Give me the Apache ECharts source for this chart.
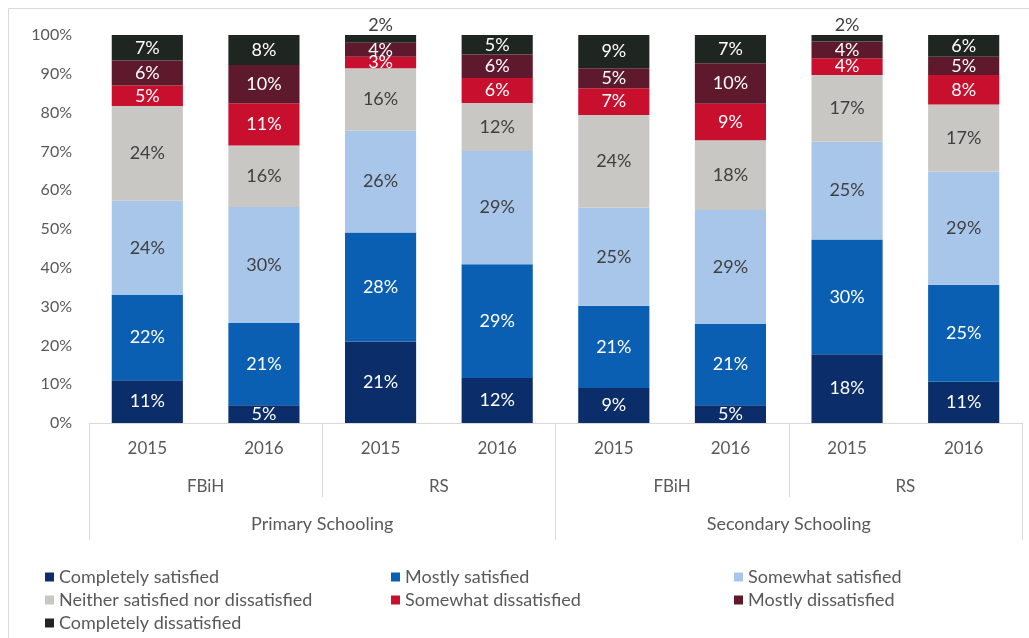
<!DOCTYPE html>
<html>
<head>
<meta charset="utf-8">
<script src="https://cdn.jsdelivr.net/npm/echarts@6/dist/echarts.min.js"></script>
<style>
html,body{margin:0;padding:0;background:#fff;}
#chart{width:1029px;height:638px;}
</style>
</head>
<body>
<div id="chart"></div>
<script>
const categories = ['2015','2016','2015','2016','2015','2016','2015','2016'];
const regions = ['FBiH','RS','FBiH','RS'];
const levels = ['Primary Schooling','Secondary Schooling'];
const yTicks = [0,10,20,30,40,50,60,70,80,90,100];

const seriesNames = ['Completely satisfied','Mostly satisfied','Somewhat satisfied',
  'Neither satisfied nor dissatisfied','Somewhat dissatisfied','Mostly dissatisfied','Completely dissatisfied'];

const completelySatisfied    = [11.0, 4.6, 21.0, 11.6, 9.0, 4.6, 17.7, 10.6];
const mostlySatisfied        = [22.0, 21.2, 28.1, 29.3, 21.2, 20.9, 29.6, 25.0];
const somewhatSatisfied      = [24.3, 29.9, 26.2, 29.2, 25.3, 29.4, 25.2, 29.2];
const neither                = [24.4, 15.8, 16.1, 12.4, 23.9, 18.0, 17.2, 17.3];
const somewhatDissatisfied   = [5.3, 10.9, 3.0, 6.4, 6.9, 9.4, 4.3, 7.6];
const mostlyDissatisfied     = [6.4, 9.9, 3.6, 6.1, 5.1, 10.4, 4.3, 4.7];
const completelyDissatisfied = [6.6, 7.7, 2.0, 5.0, 8.6, 7.3, 1.7, 5.6];

const seriesValues = [completelySatisfied, mostlySatisfied, somewhatSatisfied, neither,
  somewhatDissatisfied, mostlyDissatisfied, completelyDissatisfied];
const colors = ['#0b2d69','#0b5fb3','#a8c6ea','#c9c7c4','#c8102e','#5e1a2c','#1f2521'];
const labelColors = ['#ffffff','#ffffff','#404040','#404040','#ffffff','#ffffff','#ffffff'];

const FONT = 'Lato';
const chart = echarts.init(document.getElementById('chart'));

const series = seriesNames.map((name, i) => ({
  name: name,
  type: 'bar',
  stack: 'total',
  barWidth: '61%',
  xAxisIndex: 0,
  yAxisIndex: 0,
  itemStyle: { color: colors[i] },
  label: {
    show: true,
    position: 'inside',
    color: labelColors[i],
    fontSize: 18,
    fontFamily: FONT,
    formatter: p => Math.round(p.value) + '%'
  },
  data: seriesValues[i].map(v => {
    if (i === 6 && v < 2.5) {
      return { value: v, label: { position: 'top', color: '#404040', distance: 1 } };
    }
    return v;
  })
}));

const gridBox = { left: 89, right: 7, top: 35, height: 388 };
const legendText = { fontSize: 18, color: '#595959', fontFamily: FONT, lineHeight: 18 };

chart.setOption({
  backgroundColor: '#ffffff',
  animation: false,
  color: colors,
  grid: [
    Object.assign({}, gridBox),
    Object.assign({}, gridBox),
    Object.assign({}, gridBox)
  ],
  xAxis: [
    {
      type: 'category', gridIndex: 0, data: categories, position: 'bottom',
      axisLine: { show: true, lineStyle: { color: '#d9d9d9' } },
      axisTick: { show: false },
      axisLabel: { margin: 17, fontSize: 17, color: '#595959', fontFamily: FONT }
    },
    {
      type: 'category', gridIndex: 1, data: regions, position: 'bottom',
      axisLine: { show: false },
      axisTick: { show: true, length: 74, lineStyle: { color: '#d9d9d9' } },
      axisLabel: { margin: 55, fontSize: 17, color: '#595959', fontFamily: FONT }
    },
    {
      type: 'category', gridIndex: 2, data: levels, position: 'bottom',
      axisLine: { show: false },
      axisTick: { show: true, length: 117, lineStyle: { color: '#d9d9d9' } },
      axisLabel: { margin: 92, fontSize: 18, color: '#595959', fontFamily: FONT }
    }
  ],
  yAxis: [
    {
      type: 'value', gridIndex: 0, min: yTicks[0], max: yTicks[yTicks.length - 1], interval: 10,
      axisLine: { show: false }, axisTick: { show: false }, splitLine: { show: false },
      axisLabel: { margin: 17, fontSize: 16, color: '#595959', fontFamily: FONT, formatter: '{value}%' }
    },
    { type: 'value', gridIndex: 1, show: false, min: 0, max: 100 },
    { type: 'value', gridIndex: 2, show: false, min: 0, max: 100 }
  ],
  legend: [
    {
      data: [seriesNames[0], seriesNames[3], seriesNames[6]],
      orient: 'vertical', left: 40, top: 563, height: 100, itemWidth: 9, itemHeight: 9, itemGap: 5,
      icon: 'rect', selectedMode: false, textStyle: legendText
    },
    {
      data: [seriesNames[1], seriesNames[4]],
      orient: 'vertical', left: 386, top: 563, height: 100, itemWidth: 9, itemHeight: 9, itemGap: 5,
      icon: 'rect', selectedMode: false, textStyle: legendText
    },
    {
      data: [seriesNames[2], seriesNames[5]],
      orient: 'vertical', left: 729, top: 563, height: 100, itemWidth: 9, itemHeight: 9, itemGap: 5,
      icon: 'rect', selectedMode: false, textStyle: legendText
    }
  ],
  graphic: [
    {
      type: 'rect', silent: true, z: -1,
      shape: { x: 8.5, y: 8.5, width: 1040, height: 660 },
      style: { fill: 'none', stroke: '#d9d9d9', lineWidth: 1 }
    }
  ],
  series: series
});
</script>
</body>
</html>
